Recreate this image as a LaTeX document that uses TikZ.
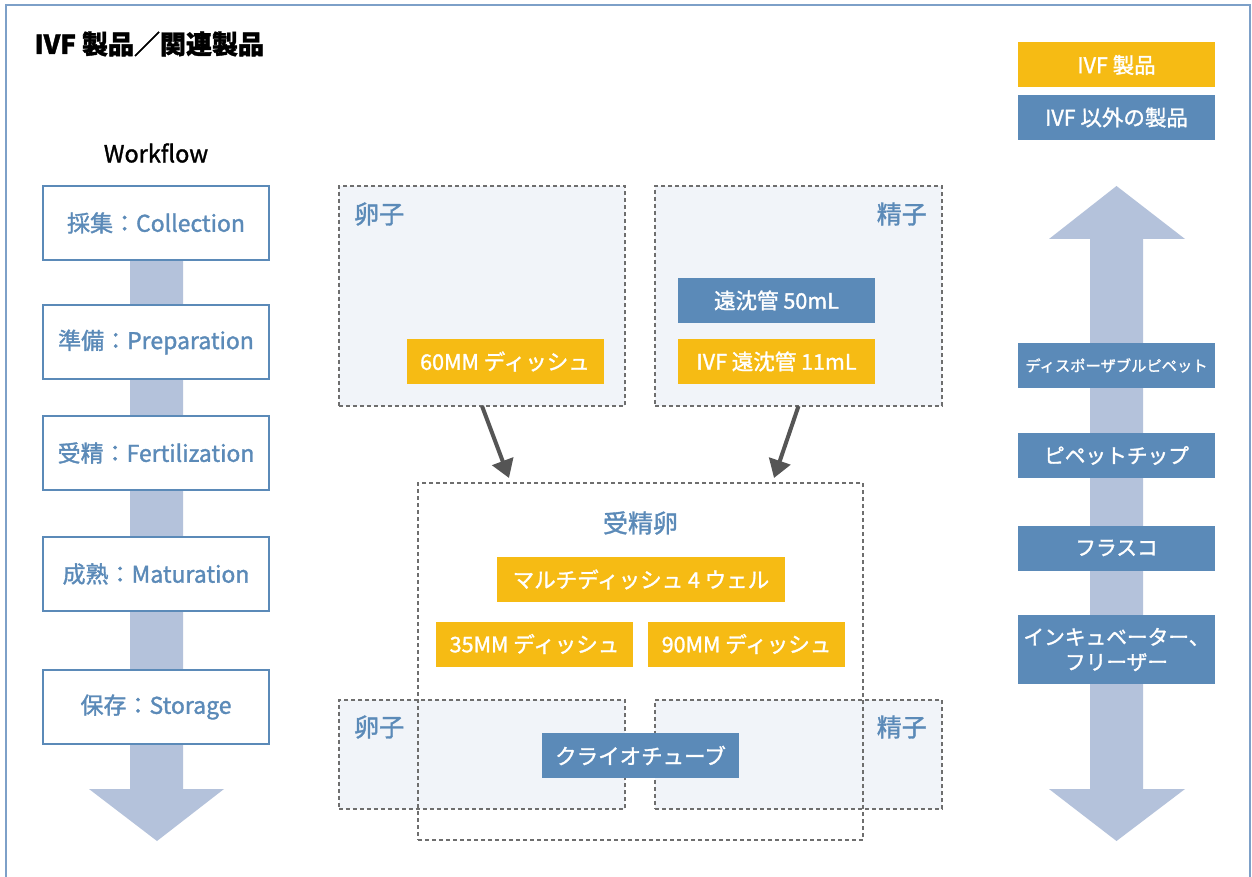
\documentclass[tikz,border=0pt]{standalone}
\usepackage{fontspec}
\setmainfont{Noto Sans CJK JP}[FakeBold=1.4]
\usetikzlibrary{arrows.meta, positioning, calc}
\definecolor{ivfyellow} {RGB}{246, 187,  20}
\definecolor{ivfblue}   {RGB}{ 91, 138, 184}
\definecolor{ivflight}  {RGB}{180, 194, 219}
\definecolor{ivfzone}   {RGB}{241, 244, 249}
\definecolor{ivfframe}  {RGB}{125, 160, 200}
\definecolor{ivfdark}   {RGB}{ 85,  85,  85}
\definecolor{ivfdash}   {RGB}{110, 110, 110}
\tikzset{
	stepbox/.style={draw=ivfblue, line width=1.2pt, fill=white, text=ivfblue,
		minimum width=226pt, minimum height=74pt, inner sep=0pt, outer sep=0pt,
		font=\fontsize{23}{26}\selectfont},
	ivfprod/.style={fill=ivfyellow, text=white, minimum width=197pt, minimum height=45pt,
		inner sep=0pt, outer sep=0pt, align=center, font=\fontsize{21.5}{25}\selectfont},
	otherprod/.style={ivfprod, fill=ivfblue},
	zone/.style={draw=ivfdash, line width=1.3pt, dash pattern=on 4pt off 3pt,
		inner sep=0pt, outer sep=0pt},
	zonelabel/.style={text=ivfblue, inner sep=0pt, font=\fontsize{25}{27}\selectfont}
}
\begin{document}
\begin{tikzpicture}[x=1pt, y=-1pt]
	\useasboundingbox (0,0) rectangle (1252,877);
	\fill[white] (0,0) rectangle (1252,877);
	\draw[ivfframe, line width=2pt] (6,877) -- (6,5) -- (1250,5) -- (1250,877);
	\node[anchor=west, font=\bfseries\fontsize{26}{29}\selectfont] (title) at (31,44) {IVF 製品／関連製品};
	% workflow
	\node[font=\fontsize{23.5}{26}\selectfont] (wflabel) at (156,153) {Workflow};
	\fill[ivflight] (130,186) -- (183,186) -- (183,789) -- (224,789) -- (157,841) -- (89,789) -- (130,789) -- cycle;
	\node[stepbox] (collect) at (156,223) {採集：Collection};
	\node[stepbox] (prep)    at (156,342) {準備：Preparation};
	\node[stepbox] (fert)    at (156,453) {受精：Fertilization};
	\node[stepbox] (mature)  at (156,574) {成熟：Maturation};
	\node[stepbox] (store)   at (156,707) {保存：Storage};
	% legend and other products
	\node[ivfprod]   (legivf)   at (1116.5,65)  {IVF 製品};
	\node[otherprod] (legother) at (1116.5,117.5) {IVF 以外の製品};
	\fill[ivflight] (1090,239) -- (1049,239) -- (1116.5,186) -- (1185,239) -- (1143,239) -- (1143,789)
		-- (1185,789) -- (1116.5,841) -- (1049,789) -- (1090,789) -- cycle;
	\node[otherprod, font=\fontsize{15.3}{18}\selectfont] (pipette) at (1116.5,365.5) {ディスポーザブルピペット};
	\node[otherprod, font=\fontsize{20.7}{24}\selectfont] (tip)   at (1116.5,455.5) {ピペットチップ};
	\node[otherprod, font=\fontsize{20.7}{24}\selectfont] (flask) at (1116.5,548)   {フラスコ};
	\node[otherprod, minimum height=69pt, font=\fontsize{20.7}{25}\selectfont] (incub) at (1116.5,649.5) {インキュベーター、\\フリーザー};
	% egg / sperm
	\node[zone, fill=ivfzone, minimum width=286pt, minimum height=220pt] (eggtop)   at (482,296)   {};
	\node[zone, fill=ivfzone, minimum width=287pt, minimum height=220pt] (spermtop) at (798.5,296) {};
	\node[zonelabel, anchor=west] at ($(eggtop.north west)+(15,28)$) {卵子};
	\node[zonelabel, anchor=east] at ($(spermtop.north east)+(-15,28)$) {精子};
	\node[ivfprod]   (dish60)  at (505,361.5)   {60MM ディッシュ};
	\node[otherprod] (tube50)  at (776.5,300.5) {遠沈管 50mL};
	\node[ivfprod]   (tube11)  at (776.5,361.5) {IVF 遠沈管 11mL};
	% zygote
	\node[zone, fill=ivfzone, minimum width=286pt, minimum height=109pt] (eggbot)   at (482,754.5)   {};
	\node[zone, fill=ivfzone, minimum width=287pt, minimum height=109pt] (spermbot) at (798.5,754.5) {};
	\node[zone, minimum width=445pt, minimum height=357pt] (zygote) at (640.5,661.5) {};
	\node[zonelabel, anchor=west] at ($(eggbot.north west)+(15,27)$) {卵子};
	\node[zonelabel, anchor=east] at ($(spermbot.north east)+(-15,27)$) {精子};
	\node[zonelabel] (zylabel) at (640.5,523) {受精卵};
	\node[ivfprod, minimum width=288pt] (multi) at (641,579.5) {マルチディッシュ 4 ウェル};
	\node[ivfprod] (dish35) at (534.5,644) {35MM ディッシュ};
	\node[ivfprod] (dish90) at (746.5,644) {90MM ディッシュ};
	\node[otherprod] (cryo) at (640.5,755.5) {クライオチューブ};
	\coordinate (eggin)   at (509,478);
	\coordinate (spermin) at (774,478);
	\draw[ivfdark, line width=4pt, -{Triangle[width=22pt,length=18pt]}] (eggtop.south) -- (eggin);
	\draw[ivfdark, line width=4pt, -{Triangle[width=22pt,length=18pt]}] (spermtop.south) -- (spermin);
\end{tikzpicture}
\end{document}
